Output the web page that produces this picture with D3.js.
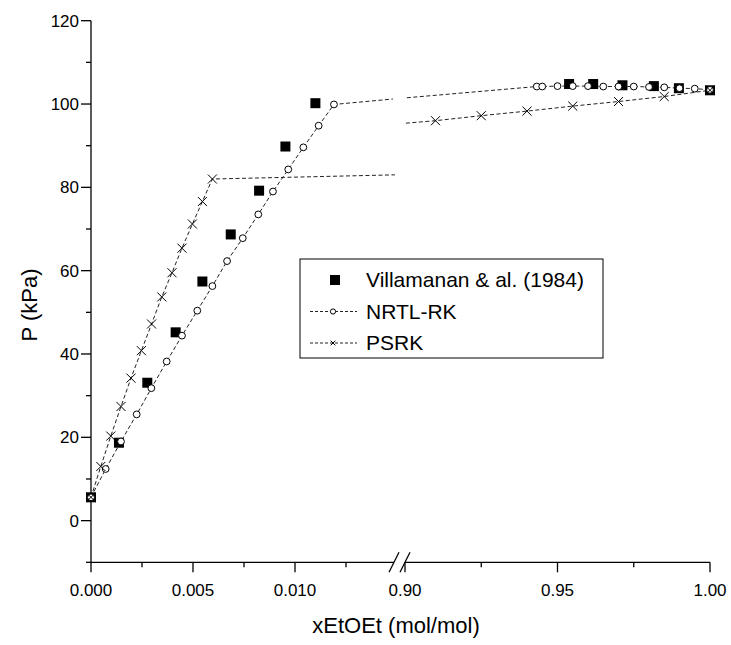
<!DOCTYPE html>
<html>
<head>
<meta charset="utf-8">
<script src="https://cdn.jsdelivr.net/npm/d3@7"></script>
<style>
  body { margin: 0; background: #fff; }
  text { font-family: "Liberation Sans", Arial, sans-serif; fill: #000; }
</style>
</head>
<body>
<div id="chart"></div>
<script>
// experimental points (Villamanan & al. 1984)
const expX = [0, 0.00137, 0.00276, 0.00415, 0.00546, 0.00685, 0.00824, 0.00953, 0.0110,
              0.9538, 0.9617, 0.9713, 0.9816, 0.9898, 1.0]
const expP = [5.6, 18.7, 33.1, 45.2, 57.4, 68.7, 79.2, 89.8, 100.2,
              104.8, 104.8, 104.5, 104.3, 103.8, 103.3]

// NRTL-RK model
const nrtlX = [0, 0.00072, 0.00147, 0.00224, 0.00296, 0.00371, 0.00446, 0.00521, 0.00595,
               0.00667, 0.00744, 0.00820, 0.00892, 0.00967, 0.01041, 0.01116, 0.01191,
               0.9432, 0.9450, 0.950, 0.955, 0.960, 0.965, 0.970, 0.975, 0.980, 0.985, 0.990, 0.995, 1.0]
const nrtlP = [5.6, 12.4, 19.0, 25.5, 31.8, 38.2, 44.4, 50.4, 56.3,
               62.3, 67.8, 73.5, 79.0, 84.3, 89.6, 94.8, 99.9,
               104.2, 104.2, 104.3, 104.3, 104.3, 104.2, 104.2, 104.2, 104.1, 104.0, 103.8, 103.7, 103.4]
// where the curve runs into the axis break (no marker)
const nrtlBreakX = [0.0148, 0.9006]
const nrtlBreakP = [101.2, 101.5]

// PSRK model
const psrkX = [0, 0.00048, 0.00097, 0.00147, 0.00196, 0.00247, 0.00297, 0.00347, 0.00397,
               0.00446, 0.00497, 0.00546, 0.00595,
               0.91, 0.925, 0.94, 0.955, 0.97, 0.985, 1.0]
const psrkP = [5.6, 13.0, 20.3, 27.4, 34.2, 40.8, 47.2, 53.7, 59.5,
               65.4, 71.2, 76.6, 82.0,
               96.0, 97.2, 98.3, 99.5, 100.6, 101.8, 103.3]
const psrkBreakX = [0.0149, 0.9003]
const psrkBreakP = [83.0, 95.4]

const leftMajor = [0, 0.005, 0.010]
const leftMinor = [0.0025, 0.0075, 0.0125]
const rightMajor = [0.90, 0.95, 1.00]
const rightMinor = [0.925, 0.975]
const yMajor = [0, 20, 40, 60, 80, 100, 120]
const yMinor = [-10, 10, 30, 50, 70, 90, 110]

const width = 731, height = 645
const svg = d3.select('#chart').append('svg')
  .attr('width', width)
  .attr('height', height)

const y = d3.scaleLinear().domain([-10, 120]).range([562.3, 20.7])
const xL = d3.scaleLinear().domain([0, 0.010]).range([91, 295])
const xR = d3.scaleLinear().domain([0.90, 1.00]).range([405, 710])
const leftEnd = 394  // end of left segment (first break mark)

const toPts = (xs, ps) => xs.map((x, i) => ({x: x, p: ps[i]}))
const exp = toPts(expX, expP)
const nrtl = toPts(nrtlX, nrtlP)
const psrk = toPts(psrkX, psrkP)
const sx = d => d.x < 0.5 ? xL(d.x) : xR(d.x)

// axes
const axis = svg.append('g').attr('stroke', '#000').attr('stroke-width', 1.3)
axis.append('line').attr('x1', xL(0)).attr('x2', xL(0)).attr('y1', y(120)).attr('y2', y(-10))
axis.append('line').attr('x1', xL(0)).attr('x2', leftEnd).attr('y1', y(-10)).attr('y2', y(-10))
axis.append('line').attr('x1', xR(0.90)).attr('x2', xR(1.0)).attr('y1', y(-10)).attr('y2', y(-10))

axis.selectAll('.ymaj').data(yMajor).enter().append('line')
  .attr('x1', xL(0) - 10).attr('x2', xL(0)).attr('y1', d => y(d)).attr('y2', d => y(d))
axis.selectAll('.ymin').data(yMinor).enter().append('line')
  .attr('x1', xL(0) - 5).attr('x2', xL(0)).attr('y1', d => y(d)).attr('y2', d => y(d))

const xMaj = leftMajor.map(xL).concat(rightMajor.map(xR))
const xMin = leftMinor.map(xL).concat(rightMinor.map(xR))
axis.selectAll('.xmaj').data(xMaj).enter().append('line')
  .attr('x1', d => d).attr('x2', d => d).attr('y1', y(-10)).attr('y2', y(-10) + 10)
axis.selectAll('.xmin').data(xMin).enter().append('line')
  .attr('x1', d => d).attr('x2', d => d).attr('y1', y(-10)).attr('y2', y(-10) + 5)

// break marks
axis.selectAll('.brk').data([leftEnd, xR(0.90)]).enter().append('line')
  .attr('x1', d => d - 5).attr('x2', d => d + 5)
  .attr('y1', y(-10) + 10).attr('y2', y(-10) - 10)

svg.selectAll('.ylab').data(yMajor).enter().append('text')
  .attr('x', xL(0) - 12).attr('y', d => y(d) + 6)
  .attr('text-anchor', 'end').attr('font-size', 17)
  .text(d => d)

svg.selectAll('.xlabL').data(leftMajor).enter().append('text')
  .attr('x', d => xL(d)).attr('y', 596)
  .attr('text-anchor', 'middle').attr('font-size', 17)
  .text(d3.format('.3f'))
svg.selectAll('.xlabR').data(rightMajor).enter().append('text')
  .attr('x', d => xR(d)).attr('y', 596)
  .attr('text-anchor', 'middle').attr('font-size', 17)
  .text(d3.format('.2f'))

svg.append('text')
  .attr('x', 396).attr('y', 633)
  .attr('text-anchor', 'middle').attr('font-size', 22)
  .text('xEtOEt (mol/mol)')
svg.append('text')
  .attr('transform', 'translate(37,305) rotate(-90)')
  .attr('text-anchor', 'middle').attr('font-size', 22)
  .text('P (kPa)')

// model lines, split at the axis break
const line = d3.line().x(sx).y(d => y(d.p))
function drawLine(pts, bx, bp){
  const left = pts.filter(d => d.x < 0.5).concat([{x: bx[0], p: bp[0]}])
  const right = [{x: bx[1], p: bp[1]}].concat(pts.filter(d => d.x > 0.5))
  svg.selectAll(null).data([left, right]).enter().append('path')
    .attr('d', line)
    .attr('fill', 'none')
    .attr('stroke', '#222')
    .attr('stroke-width', 1)
    .attr('stroke-dasharray', '4,2.5')
}
drawLine(nrtl, nrtlBreakX, nrtlBreakP)
drawLine(psrk, psrkBreakX, psrkBreakP)

// markers
svg.selectAll('.sq').data(exp).enter().append('rect')
  .attr('x', d => sx(d) - 5).attr('y', d => y(d.p) - 5)
  .attr('width', 10).attr('height', 10)
  .attr('fill', '#000')

svg.selectAll('.circ').data(nrtl).enter().append('circle')
  .attr('cx', sx).attr('cy', d => y(d.p)).attr('r', 3.4)
  .attr('fill', '#fff').attr('stroke', '#000').attr('stroke-width', 1)

const cross = d3.symbol().type(d3.symbolX).size(55)
svg.selectAll('.crs').data(psrk).enter().append('path')
  .attr('d', cross)
  .attr('transform', d => 'translate(' + sx(d) + ',' + y(d.p) + ')')
  .attr('fill', 'none').attr('stroke', '#000').attr('stroke-width', 1)

// legend
const lg = svg.append('g').attr('transform', 'translate(300,259)')
lg.append('rect').attr('width', 303).attr('height', 99)
  .attr('fill', '#fff').attr('stroke', '#000').attr('stroke-width', 1)
const items = ['Villamanan & al. (1984)', 'NRTL-RK', 'PSRK']
const rowY = [21, 52.5, 84]
lg.selectAll('.lt').data(items).enter().append('text')
  .attr('x', 66).attr('y', (d, i) => rowY[i] + 7)
  .attr('font-size', 21)
  .text(d => d)
lg.append('rect').attr('x', 30).attr('y', rowY[0] - 5).attr('width', 10).attr('height', 10).attr('fill', '#000')
lg.selectAll('.ll').data([1, 2]).enter().append('line')
  .attr('x1', 10).attr('x2', 57).attr('y1', i => rowY[i]).attr('y2', i => rowY[i])
  .attr('stroke', '#222').attr('stroke-dasharray', '3,2')
lg.append('circle').attr('cx', 33).attr('cy', rowY[1]).attr('r', 2.6)
  .attr('fill', '#fff').attr('stroke', '#000')
lg.append('path').attr('d', d3.symbol().type(d3.symbolX).size(16))
  .attr('transform', 'translate(33,' + rowY[2] + ')')
  .attr('fill', 'none').attr('stroke', '#000')
</script>
</body>
</html>
